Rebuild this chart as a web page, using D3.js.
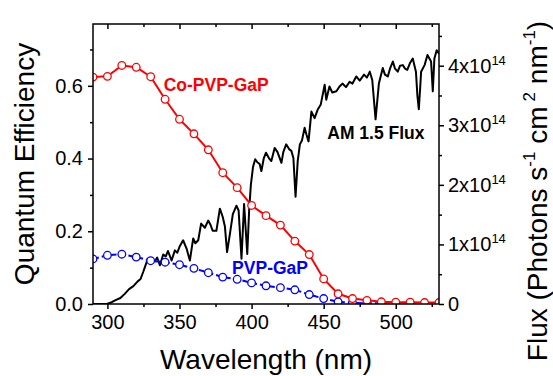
<!DOCTYPE html>
<html>
<head>
<meta charset="utf-8">
<script src="https://cdn.jsdelivr.net/npm/d3@7"></script>
<style>
  body { margin: 0; background: #fff; }
  svg text { font-family: "Liberation Sans", Arial, sans-serif; }
</style>
</head>
<body>
<div class="chart"></div>
<script>
// QE measured every 10 nm
const wavelengths = [290, 300, 310, 320, 330, 340, 350, 360, 370, 380, 390, 400, 410,
  420, 430, 440, 450, 460, 470, 480, 490, 500, 510, 520, 530];
const coPvpGaP = [0.624, 0.626, 0.656, 0.651, 0.625, 0.563, 0.508, 0.468, 0.424, 0.361, 0.320, 0.271, 0.243,
  0.217, 0.173, 0.136, 0.069, 0.028, 0.015, 0.010, 0.006, 0.005, 0.005, 0.004, 0.004];
const pvpGaP = [0.124, 0.134, 0.137, 0.129, 0.119, 0.115, 0.108, 0.098, 0.086, 0.074, 0.068, 0.058, 0.050,
  0.045, 0.039, 0.026, 0.015, 0.006, 0.003, 0.002, 0.002, 0.002, 0.002, 0.002, 0.002];

// AM 1.5 spectrum, flux in units of 1e14 photons s-1 cm-2 nm-1
const fluxWl = [290, 296, 300, 303, 306, 309, 312, 315, 318, 321, 323, 325, 326, 328, 329.5, 331, 333, 334.5,
  336.4, 338.7, 340.5, 342, 344.5, 346.8, 348.5, 350, 352.5, 354.9, 357.2, 359.5, 361, 363, 365, 367.6,
  369.9, 371.5, 373, 375.6, 378, 380, 381.5, 383, 385, 387, 389.5, 391, 393, 394.8, 397, 398.3, 399.5,
  401, 402.5, 404, 405.6, 406.8, 408.5, 410, 412, 413.7, 416, 418, 420.7, 422, 424, 426, 427.6, 429,
  430.5, 432, 433.5, 435, 436.8, 438, 439.5, 441.5, 443.7, 446, 448, 450.7, 451.8, 454, 456, 458.8,
  461, 463, 465.5, 468, 470, 472.6, 475, 478, 480, 482, 483.7, 486, 488.3, 491, 492.5, 494.5, 496,
  498, 499.5, 501.4, 503, 504.9, 506.5, 508, 510, 511.8, 513, 514, 515, 516, 517, 517.6, 520, 522,
  524.5, 525.7, 526.8, 528.4, 530];
const fluxVal = [0, 0, 0.005, 0.03, 0.07, 0.10, 0.17, 0.25, 0.30, 0.38, 0.42, 0.55, 0.62, 0.76, 0.70, 0.75, 0.72, 0.78,
  0.65, 0.83, 0.80, 0.89, 0.73, 0.90, 0.86, 0.96, 1.07, 0.93, 0.73, 1.10, 1.02, 1.07, 1.35, 1.28,
  1.40, 1.33, 1.23, 1.23, 1.60, 1.46, 1.30, 0.87, 1.18, 1.51, 1.65, 1.57, 0.76, 1.68, 0.84, 1.57, 2.0,
  2.3, 2.43, 2.38, 2.35, 2.23, 2.45, 2.54, 2.45, 2.40, 2.62, 2.55, 2.37, 2.55, 2.68, 2.60, 2.57, 2.45,
  1.80, 2.4, 2.68, 2.75, 2.96, 2.85, 2.73, 3.23, 3.12, 3.27, 3.35, 3.68, 3.43, 3.65, 3.55, 3.57,
  3.65, 3.70, 3.64, 3.73, 3.70, 3.82, 3.75, 3.85, 3.80, 3.90, 3.76, 3.10, 3.70, 3.96, 3.85, 3.82, 3.95,
  4.07, 3.95, 3.90, 4.00, 4.01, 3.95, 3.93, 4.05, 4.12, 4.00, 3.90, 3.50, 3.27, 3.65, 3.90, 4.01, 4.18,
  4.07, 3.57, 4.12, 4.26, 4.20];

const xMajor = [300, 350, 400, 450, 500];
const xMinor = [325, 375, 425, 475, 525];
const qeMajor = [0, 0.2, 0.4, 0.6];
const qeMinor = [0.1, 0.3, 0.5, 0.7];
const fluxMajor = [0, 1, 2, 3, 4];
const fluxMinor = [0.5, 1.5, 2.5, 3.5, 4.5];

const margin = { top: 24, right: 114, bottom: 72, left: 93 };
const width = 553 - margin.left - margin.right;
const height = 376 - margin.top - margin.bottom;

const x = d3.scaleLinear().domain([290, 530]).range([0, width]);
const y = d3.scaleLinear().domain([0, 0.77]).range([height, 0]);
const yFlux = d3.scaleLinear().domain([0, 4.7]).range([height, 0]);

const svg = d3.select('.chart').append('svg')
  .attr('width', 553).attr('height', 376)
  .append('g')
  .attr('transform', `translate(${margin.left},${margin.top})`);

// clip so the circles at the edges get cut by the frame
svg.append('clipPath').attr('id', 'clip')
  .append('rect').attr('width', width).attr('height', height);

const plot = svg.append('g').attr('clip-path', 'url(#clip)');

// AM 1.5 flux
plot.append('path')
  .datum(fluxWl.map((w, i) => [w, fluxVal[i]]))
  .attr('fill', 'none')
  .attr('stroke', '#000')
  .attr('stroke-width', 2)
  .attr('stroke-linejoin', 'round')
  .attr('d', d3.line().x(d => x(d[0])).y(d => yFlux(d[1])));

function qeSeries(vals, color, dash) {
  const pts = wavelengths.map((w, i) => [w, vals[i]]);
  plot.append('path')
    .datum(pts)
    .attr('fill', 'none')
    .attr('stroke', color)
    .attr('stroke-width', 2)
    .attr('stroke-dasharray', dash)
    .attr('d', d3.line().x(d => x(d[0])).y(d => y(d[1])));
  plot.append('g').selectAll('circle')
    .data(pts)
    .enter().append('circle')
    .attr('cx', d => x(d[0]))
    .attr('cy', d => y(d[1]))
    .attr('r', 3.8)
    .attr('fill', '#fff')
    .attr('stroke', color)
    .attr('stroke-width', 1.3);
}
qeSeries(pvpGaP, '#0000ff', '6,3');
qeSeries(coPvpGaP, '#ff0000', null);

// frame
svg.append('rect')
  .attr('width', width).attr('height', height)
  .attr('fill', 'none').attr('stroke', '#000').attr('stroke-width', 1.5);

// axes
const axisStyle = g => {
  g.select('.domain').remove();
  g.selectAll('line').attr('stroke', '#000').attr('stroke-width', 1.5);
  g.selectAll('text').attr('fill', '#000').style('font-size', '20px')
    .style('font-family', '"Liberation Sans", Arial, sans-serif');
};

svg.append('g').attr('transform', `translate(0,${height})`)
  .call(d3.axisBottom(x).tickValues(xMajor).tickSize(5).tickPadding(6).tickFormat(d3.format('d')))
  .call(axisStyle);
svg.append('g').attr('transform', `translate(0,${height})`)
  .call(d3.axisBottom(x).tickValues(xMinor).tickSize(3).tickFormat(''))
  .call(axisStyle);
svg.append('g')
  .call(d3.axisTop(x).tickValues(xMajor).tickSize(-5).tickFormat(''))
  .call(axisStyle);
svg.append('g')
  .call(d3.axisTop(x).tickValues(xMinor).tickSize(-3).tickFormat(''))
  .call(axisStyle);

svg.append('g')
  .call(d3.axisLeft(y).tickValues(qeMajor).tickSize(5).tickPadding(5).tickFormat(d3.format('.1f')))
  .call(axisStyle);
svg.append('g')
  .call(d3.axisLeft(y).tickValues(qeMinor).tickSize(3).tickFormat(''))
  .call(axisStyle);

const right = svg.append('g').attr('transform', `translate(${width},0)`)
  .call(d3.axisRight(yFlux).tickValues(fluxMajor).tickSize(5).tickPadding(4).tickFormat(''))
  .call(axisStyle);
svg.append('g').attr('transform', `translate(${width},0)`)
  .call(d3.axisRight(yFlux).tickValues(fluxMinor).tickSize(3).tickFormat(''))
  .call(axisStyle);

right.selectAll('.tick text').each(function (d) {
  const t = d3.select(this);
  if (d === 0) { t.text('0'); return; }
  t.text(`${d}x10`);
  t.append('tspan').text('14').style('font-size', '13px').attr('dy', '-8');
});

// axis titles
svg.append('text')
  .attr('x', width / 2).attr('y', height + 65)
  .attr('text-anchor', 'middle')
  .style('font-size', '28px')
  .text('Wavelength (nm)');

svg.append('text')
  .attr('transform', `translate(${-59},${height / 2}) rotate(-90)`)
  .attr('text-anchor', 'middle')
  .style('font-size', '28px')
  .text('Quantum Efficiency');

const rt = svg.append('text')
  .attr('transform', `translate(${width + 108},${height / 2 + 27}) rotate(-90)`)
  .attr('text-anchor', 'middle')
  .style('font-size', '28px');
rt.append('tspan').text('Flux (Photons s');
rt.append('tspan').text('-1').style('font-size', '17px').attr('dy', -12);
rt.append('tspan').text(' cm').attr('dy', 12);
rt.append('tspan').text('2').style('font-size', '17px').attr('dy', -12).attr('dx', 5);
rt.append('tspan').text(' nm').attr('dy', 12);
rt.append('tspan').text('-1').style('font-size', '17px').attr('dy', -12);
rt.append('tspan').text(')').attr('dy', 12);

// series labels
const labels = [
  { text: 'Co-PVP-GaP', wl: 339, v: 0.585, color: '#ff0000', axis: y },
  { text: 'AM 1.5 Flux', wl: 452.5, v: 2.77, color: '#000', axis: yFlux },
  { text: 'PVP-GaP', wl: 386.5, v: 0.082, color: '#0000ff', axis: y }
];
svg.append('g').selectAll('text')
  .data(labels)
  .enter().append('text')
  .attr('x', d => x(d.wl))
  .attr('y', d => d.axis(d.v))
  .attr('fill', d => d.color)
  .style('font-size', '17.5px')
  .style('font-weight', 'bold')
  .text(d => d.text);
</script>
</body>
</html>
